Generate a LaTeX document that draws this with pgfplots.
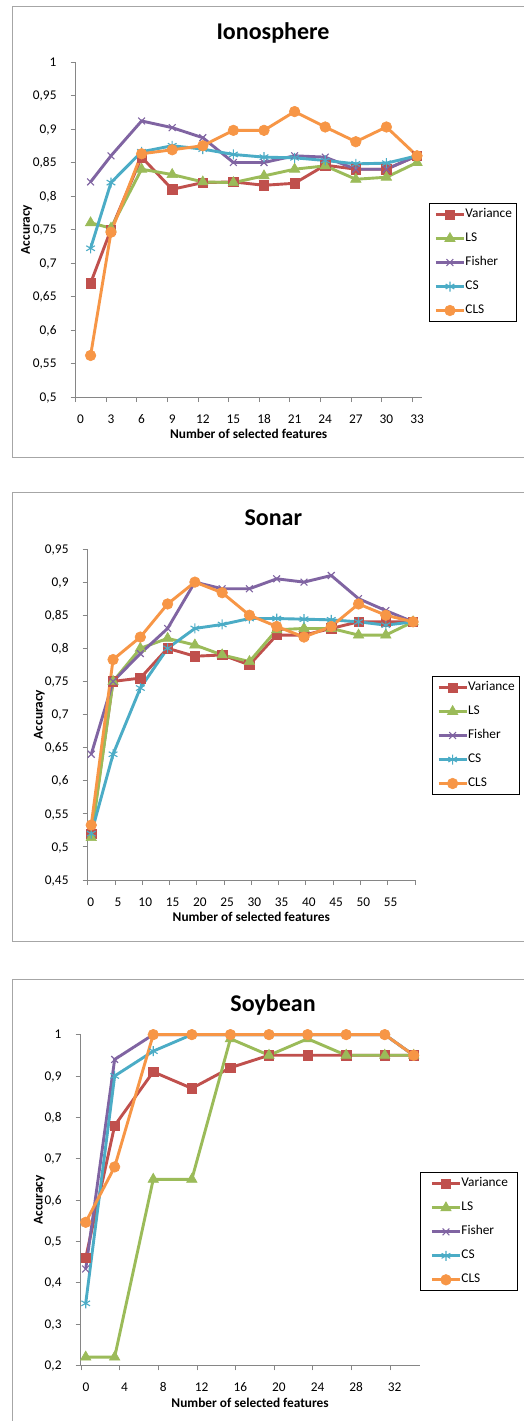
\documentclass[border=0pt]{standalone}
\usepackage{fontspec}
\setmainfont{Carlito}
\usepackage{pgfplots}
\usepackage{pgfplotstable}
\pgfplotsset{compat=1.18}
\definecolor{cVar}{HTML}{C0504D}
\definecolor{cLS}{HTML}{9BBB59}
\definecolor{cFis}{HTML}{8064A2}
\definecolor{cCS}{HTML}{4BACC6}
\definecolor{cCLS}{HTML}{F79646}
\definecolor{axgray}{HTML}{868686}
\definecolor{framegray}{HTML}{A6A6A6}
\newcommand\tf{\fontsize{13.33pt}{16pt}\selectfont}

\pgfplotstableread{
x var ls fis cs cls
1  0.670 0.760 0.821 0.722 0.562
3  0.750 0.752 0.860 0.820 0.746
6  0.858 0.840 0.912 0.866 0.863
9  0.810 0.832 0.902 0.875 0.869
12 0.820 0.821 0.887 0.870 0.875
15 0.821 0.820 0.850 0.862 0.898
18 0.816 0.830 0.850 0.858 0.898
21 0.819 0.840 0.860 0.857 0.926
24 0.846 0.845 0.858 0.853 0.903
27 0.840 0.825 0.840 0.848 0.881
30 0.840 0.828 0.840 0.849 0.903
33 0.860 0.850 0.860 0.860 0.860
}\ionosphere

\pgfplotstableread{
x var ls fis cs cls
1  0.520 0.514 0.640 0.520 0.533
5  0.750 0.750 0.750 0.640 0.783
10 0.755 0.800 0.792 0.740 0.817
15 0.800 0.815 0.830 0.800 0.867
20 0.788 0.805 0.900 0.830 0.900
25 0.790 0.790 0.890 0.836 0.884
30 0.775 0.780 0.890 0.845 0.850
35 0.820 0.828 0.905 0.845 0.833
40 0.820 0.830 0.900 0.844 0.817
45 0.830 0.830 0.910 0.843 0.833
50 0.840 0.820 0.875 0.840 0.867
55 0.840 0.820 0.857 0.835 0.850
60 0.840 0.840 0.840 0.840 0.840
}\sonar

\pgfplotstableread{
x var ls fis cs cls
1  0.46 0.22 0.433 0.35 0.546
4  0.78 0.22 0.940 0.90 0.680
8  0.91 0.65 1.000 0.96 1.000
12 0.87 0.65 1.000 1.00 1.000
16 0.92 0.99 1.000 1.00 1.000
20 0.95 0.95 1.000 1.00 1.000
24 0.95 0.99 1.000 1.00 1.000
28 0.95 0.95 1.000 1.00 1.000
32 0.95 0.95 1.000 1.00 1.000
35 0.95 0.95 0.950 0.95 0.950
}\soybean

\pgfplotsset{
  sVar/.style={color=cVar, line width=2.9pt, mark=square*, mark size=4.7pt, mark options={solid, line width=0.6pt}},
  sLS/.style={color=cLS, line width=2.9pt, mark=triangle*, mark size=6pt, mark options={solid, line width=0.6pt}},
  sFis/.style={color=cFis, line width=2.9pt, mark=x, mark size=4.8pt, mark options={solid, line width=1.1pt}},
  sCS/.style={color=cCS, line width=2.9pt, mark=asterisk, mark size=5pt, mark options={solid, line width=1.1pt}},
  sCLS/.style={color=cCLS, line width=2.9pt, mark=*, mark size=5.3pt, mark options={solid, line width=0.6pt}},
  excel/.style={
    scale only axis,
    axis x line*=bottom, axis y line*=left,
    axis line style={-, axgray, line width=0.9pt},
    every non boxed x axis/.append style={x axis line style=-},
    every non boxed y axis/.append style={y axis line style=-},
    tick align=outside,
    major tick length=5pt,
    tick style={axgray, line width=0.9pt},
    ticklabel style={font=\tf, text=black},
    xticklabel style={anchor=base, inner sep=0pt, yshift=-21.3pt},
    yticklabel style={anchor=base east, inner sep=0pt, yshift=-4.2pt, xshift=-14pt},
    label style={font=\tf\bfseries},
    clip=false,
    legend cell align=left,
    legend style={anchor=north west, draw=black, line width=1pt, fill=white,
      font=\tf, inner xsep=5pt, inner ysep=5pt, row sep=12pt,
      nodes={inner sep=0pt, text height=9pt, text depth=3pt},
      /tikz/every even column/.append style={column sep=2pt}},
    legend image code/.code={\draw[mark repeat=2, mark phase=2, ##1] plot coordinates {(0pt,0pt) (14pt,0pt) (28pt,0pt)};},
  }
}

\begin{document}
\begin{tikzpicture}
\useasboundingbox (0pt,0pt) rectangle (524pt,-1421pt);
\fill[white] (0pt,0pt) rectangle (524pt,-1421pt);
\draw[framegray, line width=1pt] (12pt,-7pt) rectangle (545pt,-457pt);
\draw[framegray, line width=1pt] (12.3pt,-492.7pt) rectangle (545pt,-941pt);
\draw[framegray, line width=1pt] (12pt,-979pt) rectangle (545pt,-1430pt);

\node[anchor=base, font=\fontsize{24pt}{28pt}\selectfont\bfseries] at (273pt,-40pt) {Ionosphere};
\node[anchor=base, font=\fontsize{24pt}{28pt}\selectfont\bfseries] at (273.3pt,-525.7pt) {Sonar};
\node[anchor=base, font=\fontsize{24pt}{28pt}\selectfont\bfseries] at (273pt,-1011.7pt) {Soybean};

% Ionosphere
\begin{axis}[excel, at={(75.7pt,-397pt)}, anchor=south west,
  width=346pt, height=335pt,
  xmin=-0.46, xmax=33.46, ymin=0.5, ymax=1,
  xtick={-0.46,2.54,5.54,8.54,11.54,14.54,17.54,20.54,23.54,26.54,29.54,32.54},
  xticklabels={0,3,6,9,12,15,18,21,24,27,30,33},
  xticklabel style={xshift=4.7pt},
  ytick={0.5,0.55,0.6,0.65,0.7,0.75,0.8,0.85,0.9,0.95,1},
  yticklabels={{0,5},{0,55},{0,6},{0,65},{0,7},{0,75},{0,8},{0,85},{0,9},{0,95},{1}},
  xlabel={Number of selected features}, ylabel={Accuracy},
  xlabel style={at={(axis description cs:0.5,-0.1113)}, anchor=center},
  ylabel style={at={(axis description cs:-0.1416,0.5)}, anchor=center},
  legend style={at={(1.0211,0.5791)}},
]
\addplot[sVar] table[x=x,y=var] {\ionosphere};
\addplot[sLS] table[x=x,y=ls] {\ionosphere};
\addplot[sFis] table[x=x,y=fis] {\ionosphere};
\addplot[sCS] table[x=x,y=cs] {\ionosphere};
\addplot[sCLS] table[x=x,y=cls] {\ionosphere};
\legend{Variance,LS,Fisher,CS,CLS}
\end{axis}

% Sonar
\begin{axis}[excel, at={(87.7pt,-880pt)}, anchor=south west,
  width=327.3pt, height=331pt,
  xmin=0.35, xmax=60.35, ymin=0.45, ymax=0.95,
  xtick={0.35,5.35,10.35,15.35,20.35,25.35,30.35,35.35,40.35,45.35,50.35,55.35,60.35},
  xticklabels={0,5,10,15,20,25,30,35,40,45,50,55,{}},
  xticklabel style={xshift=3pt},
  ytick={0.45,0.5,0.55,0.6,0.65,0.7,0.75,0.8,0.85,0.9,0.95},
  yticklabels={{0,45},{0,5},{0,55},{0,6},{0,65},{0,7},{0,75},{0,8},{0,85},{0,9},{0,95}},
  xlabel={Number of selected features}, ylabel={Accuracy},
  xlabel style={at={(axis description cs:0.5,-0.1127)}, anchor=center},
  ylabel style={at={(axis description cs:-0.1479,0.5)}, anchor=center},
  legend style={at={(1.051,0.6163)}},
]
\addplot[sVar] table[x=x,y=var] {\sonar};
\addplot[sLS] table[x=x,y=ls] {\sonar};
\addplot[sFis] table[x=x,y=fis] {\sonar};
\addplot[sCS] table[x=x,y=cs] {\sonar};
\addplot[sCLS] table[x=x,y=cls] {\sonar};
\legend{Variance,LS,Fisher,CS,CLS}
\end{axis}

% Soybean
\begin{axis}[excel, at={(80.7pt,-1365.3pt)}, anchor=south west,
  width=338.8pt, height=330.7pt,
  xmin=0.48, xmax=35.6, ymin=0.2, ymax=1,
  xtick={0.54,4.54,8.54,12.54,16.54,20.54,24.54,28.54,32.54},
  xticklabels={0,4,8,12,16,20,24,28,32},
  xticklabel style={xshift=4.7pt},
  ytick={0.2,0.3,0.4,0.5,0.6,0.7,0.8,0.9,1},
  yticklabels={{0,2},{0,3},{0,4},{0,5},{0,6},{0,7},{0,8},{0,9},{1}},
  xlabel={Number of selected features}, ylabel={Accuracy},
  xlabel style={at={(axis description cs:0.5,-0.1131)}, anchor=center},
  ylabel style={at={(axis description cs:-0.1222,0.5)}, anchor=center},
  legend style={at={(1.0015,0.5836)}, inner xsep=10pt},
]
\addplot[sVar] table[x=x,y=var] {\soybean};
\addplot[sLS] table[x=x,y=ls] {\soybean};
\addplot[sFis] table[x=x,y=fis] {\soybean};
\addplot[sCS] table[x=x,y=cs] {\soybean};
\addplot[sCLS] table[x=x,y=cls] {\soybean};
\legend{Variance,LS,Fisher,CS,CLS}
\end{axis}
\end{tikzpicture}
\end{document}
